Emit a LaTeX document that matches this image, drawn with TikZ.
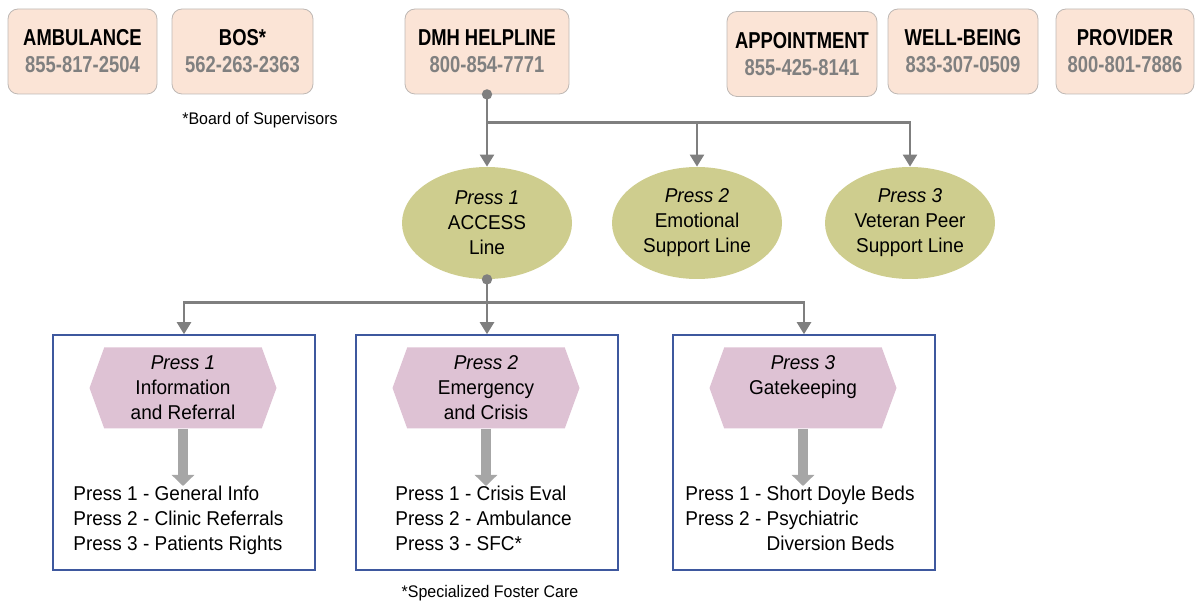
\documentclass[tikz,border=0pt]{standalone}
\usepackage{fontspec}
\setmainfont{Liberation Sans}[FakeStretch=0.95]
\newfontfamily\phonefont{Liberation Sans}[FakeStretch=0.8]
\usepackage{tikz}
\usetikzlibrary{shapes.geometric,shapes.symbols,arrows.meta}
\definecolor{phonefill}{RGB}{251,228,214}
\definecolor{phoneedge}{RGB}{190,184,180}
\definecolor{phonegrey}{RGB}{128,128,128}
\definecolor{ovalfill}{RGB}{206,205,142}
\definecolor{flagfill}{RGB}{222,194,212}
\definecolor{menublue}{RGB}{62,88,158}
\definecolor{conngrey}{RGB}{127,127,127}
\definecolor{fatgrey}{RGB}{166,166,166}
\tikzstyle{phonebox} = [draw=phoneedge, fill=phonefill, rounded corners=5pt,
    minimum height=42.5pt, inner sep=0pt, align=center,
    font=\phonefont\bfseries\fontsize{11.5}{13.5}\selectfont]
\tikzstyle{pressoval} = [ellipse, fill=ovalfill, minimum width=85pt, minimum height=56pt,
    inner sep=0pt, align=center, font=\fontsize{10}{12.5}\selectfont]
\tikzstyle{menubox} = [draw=menublue, line width=0.8pt, minimum width=131pt,
    minimum height=117.5pt, inner sep=0pt]
\tikzstyle{pressflag} = [signal, signal to=west and east, signal pointer angle=140,
    fill=flagfill, minimum width=93.5pt, minimum height=40.5pt, inner sep=0pt,
    align=center, font=\fontsize{10}{12.5}\selectfont]
\tikzstyle{menulist} = [anchor=north west, align=left, inner sep=0pt,
    font=\fontsize{10}{12.5}\selectfont]
\tikzstyle{conn} = [draw=conngrey, line width=1.2pt, -{Triangle[width=7pt,length=6pt]}]
\tikzstyle{fatarrow} = [draw=fatgrey, line width=5pt, -{Triangle[width=11pt,length=5.5pt]}]
\tikzstyle{footnote} = [inner sep=0pt, font=\fontsize{8.4}{10}\selectfont]

\begin{document}
\begin{tikzpicture}[x=0.5pt, y=-0.5pt]
                \useasboundingbox (0,0) rectangle (1196,604);
                \node[phonebox, minimum width=74.5pt] (ambulance) at (82.5,51.5) {AMBULANCE\\\textcolor{phonegrey}{855-817-2504}};
                \node[phonebox, minimum width=70.5pt] (bos) at (242.5,51.5) {BOS*\\\textcolor{phonegrey}{562-263-2363}};
                \node[phonebox, minimum width=82pt] (dmh) at (487,51.5) {DMH HELPLINE\\\textcolor{phonegrey}{800-854-7771}};
                \node[phonebox, minimum width=75pt] (appointment) at (802,54) {APPOINTMENT\\\textcolor{phonegrey}{855-425-8141}};
                \node[phonebox, minimum width=75pt] (wellbeing) at (963,51.5) {WELL-BEING\\\textcolor{phonegrey}{833-307-0509}};
                \node[phonebox, minimum width=69pt] (provider) at (1125,51.5) {PROVIDER\\\textcolor{phonegrey}{800-801-7886}};
                \node[footnote] (bosnote) at (260,120) {*Board of Supervisors};

                \node[pressoval] (access) at (487,223) {\textit{Press 1}\\ACCESS\\Line};
                \node[pressoval] (emotional) at (697,223) {\textit{Press 2}\\Emotional\\Support Line};
                \node[pressoval] (veteran) at (910,223) {\textit{Press 3}\\Veteran Peer\\Support Line};

                \fill[conngrey] (dmh.south) circle (2.6pt);
                \draw[conn] (dmh.south) -- (access.north);
                \draw[conn] (dmh.south) ++(0,28) -| (emotional.north);
                \draw[conn] (dmh.south) ++(0,28) -| (veteran.north);

                \node[menubox] (info) at (184,452.5) {};
                \node[menubox] (crisis) at (487,452.5) {};
                \node[menubox] (gate) at (804,452.5) {};

                \fill[conngrey] (access.south) circle (2.6pt);
                \draw[conn] (access.south) -- (crisis.north);
                \draw[conn] (access.south) ++(0,23) -| (info.north);
                \draw[conn] (access.south) ++(0,23) -| (gate.north);

                \node[pressflag] (infoflag) at (183,388) {\textit{Press 1}\\Information\\and Referral};
                \node[pressflag] (crisisflag) at (486,388) {\textit{Press 2}\\Emergency\\and Crisis};
                \node[pressflag] (gateflag) at (803,388) {\textit{Press 3}\\Gatekeeping\\\mbox{}};

                \node[menulist] (infolist) at (73,486) {Press 1 - General Info\\Press 2 - Clinic Referrals\\Press 3 - Patients Rights};
                \node[menulist] (crisislist) at (395,486) {Press 1 - Crisis Eval\\Press 2 - Ambulance\\Press 3 - SFC*};
                \node[menulist] (gatelist) at (685,486) {Press 1 - Short Doyle Beds\\Press 2 - Psychiatric\\\hphantom{Press 2 - }Diversion Beds};

                \draw[fatarrow] (infoflag.south) -- (infoflag.south |- infolist.north);
                \draw[fatarrow] (crisisflag.south) -- (crisisflag.south |- crisislist.north);
                \draw[fatarrow] (gateflag.south) -- (gateflag.south |- gatelist.north);

                \node[footnote] (sfcnote) at (490,593) {*Specialized Foster Care};
            \end{tikzpicture}
\end{document}
